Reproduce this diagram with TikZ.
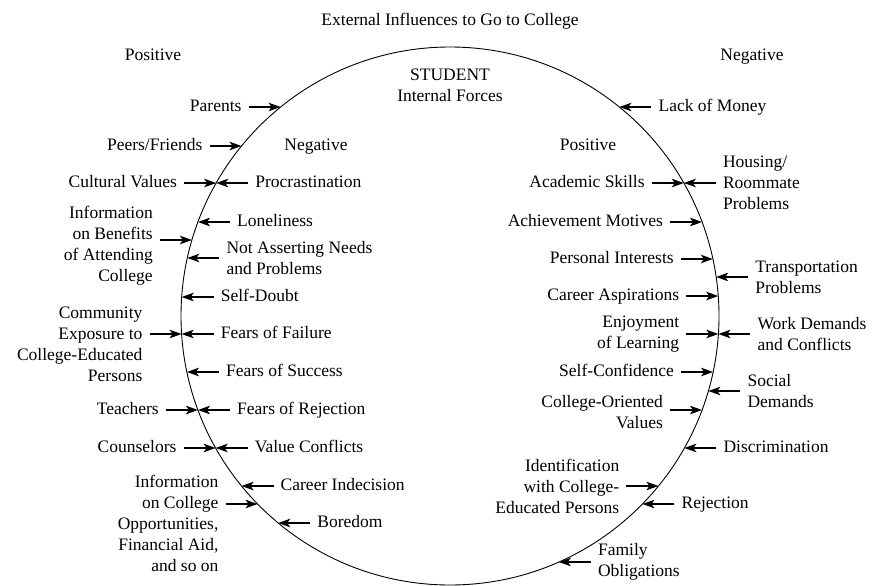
\documentclass[tikz,border=0pt]{standalone}
\usepackage{fontspec}
\setmainfont{Liberation Serif}
\usetikzlibrary{arrows.meta, positioning}

% x of the rim at a given height
\newcommand{\cirL}[1]{450-269*sqrt(1-((#1-316)/269)^2)}
\newcommand{\cirR}[1]{450+269*sqrt(1-((#1-316)/269)^2)}

\tikzset{
	lbl/.style={inner xsep=7pt, inner ysep=0pt, text height=11.5pt, text depth=3.5pt},
	lblm/.style={inner xsep=7pt, inner ysep=0pt},
	pull/.style={line width=1.6pt, -{Stealth[length=12pt,width=8.5pt,inset=3pt]}},
	ring/.style={line width=0.9pt},
}

\begin{document}
\begin{tikzpicture}[x=1pt, y=-1pt, font=\fontsize{17.5}{21}\selectfont, node distance=32pt]
		\useasboundingbox (0,0) rectangle (878,586);

		\coordinate (cen) at (450,316);
		\draw[ring] (cen) circle[radius=269];

		% Headings
		\node[lbl] (title) at (450,22) {External Influences to Go to College};
		\node[lbl] (outpos) at (153,57) {Positive};
		\node[lbl] (outneg) at (752,57) {Negative};
		\node[lblm, align=center] (student) at (450,85.5) {STUDENT\\Internal Forces};
		\node[lbl] (inneg) at (316,146) {Negative};
		\node[lbl] (inpos) at (588,146) {Positive};

		% Rim points, left
		\coordinate (pa) at ({\cirL{107}},107);
		\coordinate (pe) at ({\cirL{146}},146);
		\coordinate (cu) at ({\cirL{183}},183);
		\coordinate (ib) at ({\cirL{240}},240);
		\coordinate (ce) at ({\cirL{334}},334);
		\coordinate (te) at ({\cirL{410}},410);
		\coordinate (co) at ({\cirL{448}},448);
		\coordinate (ic) at ({\cirL{504}},504);

		\coordinate (pr) at ({\cirL{183}},183);
		\coordinate (lo) at ({\cirL{222}},222);
		\coordinate (na) at ({\cirL{258}},258);
		\coordinate (sd) at ({\cirL{297}},297);
		\coordinate (ff) at ({\cirL{334}},334);
		\coordinate (fs) at ({\cirL{372}},372);
		\coordinate (fr) at ({\cirL{410}},410);
		\coordinate (vc) at ({\cirL{448}},448);
		\coordinate (ci) at ({\cirL{486}},486);
		\coordinate (bo) at ({\cirL{523}},523);

		% Rim points, right
		\coordinate (as) at ({\cirR{183}},183);
		\coordinate (am) at ({\cirR{222}},222);
		\coordinate (pi) at ({\cirR{259}},259);
		\coordinate (ca) at ({\cirR{296}},296);
		\coordinate (el) at ({\cirR{334}},334);
		\coordinate (sc) at ({\cirR{372}},372);
		\coordinate (cv) at ({\cirR{410}},410);
		\coordinate (id) at ({\cirR{486}},486);

		\coordinate (lm) at ({\cirR{107}},107);
		\coordinate (ho) at ({\cirR{183}},183);
		\coordinate (tr) at ({\cirR{277}},277);
		\coordinate (wd) at ({\cirR{334}},334);
		\coordinate (so) at ({\cirR{391}},391);
		\coordinate (di) at ({\cirR{448}},448);
		\coordinate (rj) at ({\cirR{504}},504);
		\coordinate (fo) at ({\cirR{562}},562);

		% External, positive
		\node[lbl, left=of pa] (parents) {Parents};
		\node[lbl, left=of pe] (peers) {Peers/Friends};
		\node[lbl, left=of cu] (cultural) {Cultural Values};
		\node[lblm, left=of ib, yshift=-6pt, align=right] (infoben) {Information\\on Benefits\\of Attending\\College};
		\node[lblm, left=of ce, yshift=-10.5pt, align=right] (community) {Community\\Exposure to\\College-Educated\\Persons};
		\node[lbl, left=of te] (teachers) {Teachers};
		\node[lbl, left=of co] (counselors) {Counselors};
		\node[lblm, left=of ic, yshift=-19pt, align=right] (infocol) {Information\\on College\\Opportunities,\\Financial Aid,\\and so on};

		\draw[pull] (parents) -- (pa);
		\draw[pull] (peers) -- (pe);
		\draw[pull] (cultural) -- (cu);
		\draw[pull] (infoben.east |- ib) -- (ib);
		\draw[pull] (community.east |- ce) -- (ce);
		\draw[pull] (teachers) -- (te);
		\draw[pull] (counselors) -- (co);
		\draw[pull] (infocol.east |- ic) -- (ic);

		% Internal, negative
		\node[lbl, right=of pr] (procr) {Procrastination};
		\node[lbl, right=of lo] (lonely) {Loneliness};
		\node[lblm, right=of na, align=left] (notassert) {Not Asserting Needs\\and Problems};
		\node[lbl, right=of sd] (selfdoubt) {Self-Doubt};
		\node[lbl, right=of ff] (failure) {Fears of Failure};
		\node[lbl, right=of fs] (success) {Fears of Success};
		\node[lbl, right=of fr] (rejectfear) {Fears of Rejection};
		\node[lbl, right=of vc] (valconf) {Value Conflicts};
		\node[lbl, right=of ci] (indecision) {Career Indecision};
		\node[lbl, right=of bo] (boredom) {Boredom};

		\draw[pull] (procr) -- (pr);
		\draw[pull] (lonely) -- (lo);
		\draw[pull] (notassert.west |- na) -- (na);
		\draw[pull] (selfdoubt) -- (sd);
		\draw[pull] (failure) -- (ff);
		\draw[pull] (success) -- (fs);
		\draw[pull] (rejectfear) -- (fr);
		\draw[pull] (valconf) -- (vc);
		\draw[pull] (indecision) -- (ci);
		\draw[pull] (boredom) -- (bo);

		% Internal, positive
		\node[lbl, left=of as] (academic) {Academic Skills};
		\node[lbl, left=of am] (achieve) {Achievement Motives};
		\node[lbl, left=of pi] (interests) {Personal Interests};
		\node[lbl, left=of ca] (aspire) {Career Aspirations};
		\node[lblm, left=of el, align=right] (enjoy) {Enjoyment\\of Learning};
		\node[lbl, left=of sc] (confidence) {Self-Confidence};
		\node[lblm, left=of cv, yshift=-2.5pt, align=right] (values) {College-Oriented\\Values};
		\node[lblm, left=of id, align=right] (ident) {Identification\\with College-\\Educated Persons};

		\draw[pull] (academic) -- (as);
		\draw[pull] (achieve) -- (am);
		\draw[pull] (interests) -- (pi);
		\draw[pull] (aspire) -- (ca);
		\draw[pull] (enjoy.east |- el) -- (el);
		\draw[pull] (confidence) -- (sc);
		\draw[pull] (values.east |- cv) -- (cv);
		\draw[pull] (ident.east |- id) -- (id);

		% External, negative
		\node[lbl, right=of lm] (money) {Lack of Money};
		\node[lblm, right=of ho, align=left] (housing) {Housing/\\Roommate\\Problems};
		\node[lblm, right=of tr, align=left] (transport) {Transportation\\Problems};
		\node[lblm, right=of wd, align=left] (work) {Work Demands\\and Conflicts};
		\node[lblm, right=of so, align=left] (social) {Social\\Demands};
		\node[lbl, right=of di] (discrim) {Discrimination};
		\node[lbl, right=of rj] (rejection) {Rejection};
		\node[lblm, right=of fo, align=left] (family) {Family\\Obligations};

		\draw[pull] (money) -- (lm);
		\draw[pull] (housing.west |- ho) -- (ho);
		\draw[pull] (transport.west |- tr) -- (tr);
		\draw[pull] (work.west |- wd) -- (wd);
		\draw[pull] (social.west |- so) -- (so);
		\draw[pull] (discrim) -- (di);
		\draw[pull] (rejection) -- (rj);
		\draw[pull] (family.west |- fo) -- (fo);
	\end{tikzpicture}
\end{document}
